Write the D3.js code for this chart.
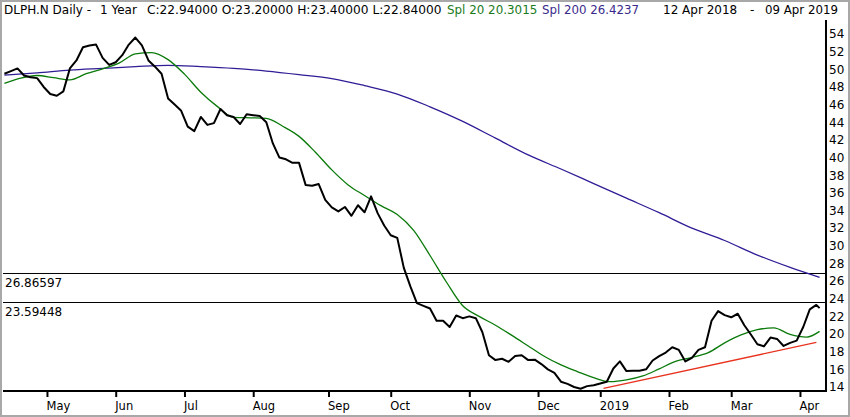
<!DOCTYPE html>
<html>
<head>
<meta charset="utf-8">
<script src="https://cdn.jsdelivr.net/npm/d3@7"></script>
<style>
  body { margin: 0; background: #fff; }
  svg text { font-family: "DejaVu Sans", Verdana, sans-serif; }
</style>
</head>
<body>
<svg id="chart"></svg>
<script>
// closing prices, one reading every 2 trading days from 12 Apr 2018 (index 0)
const closeStep = 2;
const closes = [
  49.5, 49.8, 50.1, 49.3, 49.1, 49.0, 48.0, 47.2, 47.0, 47.5,
  50.1, 51.0, 52.5, 52.7, 52.8, 51.3, 50.5, 50.8, 51.6, 52.8,
  53.6, 52.7, 51.0, 50.3, 49.5, 46.7, 46.0, 45.3, 43.5, 43.0,
  44.6, 43.7, 43.9, 45.5, 44.8, 44.6, 43.8, 44.9, 44.8, 44.7,
  44.0, 41.6, 40.0, 39.8, 39.4, 39.4, 36.9, 36.8, 37.0, 35.2,
  34.35, 33.9, 34.4, 33.4, 34.6, 33.8, 35.6, 33.7, 32.3, 31.2,
  30.9, 27.5, 25.4, 23.5, 23.2, 22.9, 21.5, 21.5, 20.8, 22.1,
  21.8, 22.0, 21.8, 20.2, 17.6, 17.05, 17.2, 16.85, 17.5, 17.6,
  17.05, 17.1, 16.6, 16.0, 15.6, 14.6, 14.35, 14.0, 13.8, 14.1,
  14.2, 14.4, 14.6, 16.1, 16.9, 15.8, 15.85, 15.85, 16.0, 17.0,
  17.5, 17.9, 18.5, 18.2, 16.9, 17.3, 18.2, 18.5, 21.5, 22.6,
  22.15, 21.9, 22.3, 21.0, 19.95, 18.85, 18.6, 19.6, 19.45, 18.65,
  19.0, 19.25, 20.8, 22.8, 23.3
];
const lastDay = 249;
const lastClose = 22.94;

// 20 day average, read every 5 trading days
const sma20Step = 5;
const sma20 = [
  48.4, 49.0, 49.3, 49.05, 48.8, 49.5, 50.05, 50.7, 51.75, 51.9,
  51.1, 49.45, 47.4, 45.8, 44.55, 44.5, 44.45, 43.55, 42.4, 40.6,
  38.6, 36.9, 35.7, 34.55, 33.55, 31.75, 28.9, 25.9, 23.2, 22.0,
  21.0, 19.85, 18.65, 17.45, 16.5, 15.75, 15.05, 14.6, 14.8, 15.25,
  16.05, 16.9, 17.35, 17.9, 19.0, 19.9, 20.5, 20.7, 19.95, 19.65
];
const sma20Last = 20.3015;

// 200 day average, read every 10 trading days
const sma200Step = 10;
const sma200 = [
  49.35, 49.6, 49.9, 50.1, 50.3, 50.45, 50.3, 50.1, 49.8, 49.4,
  48.95, 48.15, 47.2, 45.75, 44.1, 42.2, 40.3, 38.7, 37.05, 35.4,
  33.75, 32.0, 30.6, 28.95, 27.55
];
const sma200Last = 26.4237;

// trend line under the 2019 lows
const trendDays = [183, 248];
const trendValues = [13.85, 19.05];

// horizontal levels
const levels = [26.86597, 23.59448];

// month ticks (trading day index)
const monthDays = [13, 34, 55, 76, 99, 118, 142, 163, 182, 203, 222, 243];
const monthLabels = ["May", "Jun", "Jul", "Aug", "Sep", "Oct", "Nov", "Dec", "2019", "Feb", "Mar", "Apr"];

const priceTicks = d3.range(14, 55, 2);

// header pieces
const headerItems = [
  { text: "DLPH.N Daily -", x: 4, size: 12, color: "#000" },
  { text: "1 Year", x: 100, size: 12, color: "#000" },
  { text: "C:22.94000 O:23.20000 H:23.40000 L:22.84000", x: 147, size: 12.2, color: "#000" },
  { text: "Spl 20 20.3015", x: 447, size: 11.9, color: "#1b7a1b" },
  { text: "Spl 200 26.4237", x: 542, size: 11.8, color: "#3a2a8c" },
  { text: "12 Apr 2018", x: 663, size: 12, color: "#000" },
  { text: "-", x: 750, size: 12, color: "#000" },
  { text: "09 Apr 2019", x: 765, size: 11.8, color: "#000" }
];

const width = 850;
const height = 417;
const plotLeft = 3;
const plotRight = 826;
const plotTop = 20;
const plotBottom = 391;

const svg = d3.select("#chart").attr("width", width).attr("height", height);

svg.append("rect")
  .attr("x", 1).attr("y", 1)
  .attr("width", width - 2).attr("height", height - 2)
  .attr("fill", "#fff")
  .attr("stroke", "#a8a8a8")
  .attr("stroke-width", 2);

const x = d3.scaleLinear().domain([0, lastDay]).range([4.4, 819.6]);
const y = d3.scaleLinear().domain([14, 54]).range([387, 34]);

// build point lists from the arrays
const closePts = closes.map((v, k) => [k * closeStep, v]).concat([[lastDay, lastClose]]);
const sma20Pts = sma20.map((v, k) => [k * sma20Step, v]).concat([[lastDay, sma20Last]]);
const sma200Pts = sma200.map((v, k) => [k * sma200Step, v]).concat([[lastDay, sma200Last]]);
const trendPts = trendDays.map((d, k) => [d, trendValues[k]]);

const plot = svg.append("g");

// horizontal levels and their labels
plot.selectAll(".level")
  .data(levels)
  .enter().append("line")
  .attr("x1", plotLeft).attr("x2", plotRight)
  .attr("y1", d => Math.round(y(d)) + 0.5)
  .attr("y2", d => Math.round(y(d)) + 0.5)
  .attr("stroke", "#000")
  .attr("stroke-width", 1);

plot.selectAll(".levelLabel")
  .data(levels)
  .enter().append("text")
  .attr("x", 5)
  .attr("y", d => Math.round(y(d)) + 14)
  .attr("font-size", 12)
  .attr("fill", "#000")
  .text(d => d.toFixed(5));

const line = d3.line().x(d => x(d[0])).y(d => y(d[1]));
const smooth = d3.line().x(d => x(d[0])).y(d => y(d[1])).curve(d3.curveMonotoneX);

plot.append("path")
  .datum(sma200Pts)
  .attr("d", smooth)
  .attr("fill", "none")
  .attr("stroke", "#2f1d96")
  .attr("stroke-width", 1.3);

plot.append("path")
  .datum(sma20Pts)
  .attr("d", smooth)
  .attr("fill", "none")
  .attr("stroke", "#0a7a0a")
  .attr("stroke-width", 1.3);

plot.append("path")
  .datum(trendPts)
  .attr("d", line)
  .attr("fill", "none")
  .attr("stroke", "#e8321e")
  .attr("stroke-width", 1.4);

plot.append("path")
  .datum(closePts)
  .attr("d", line)
  .attr("fill", "none")
  .attr("stroke", "#000")
  .attr("stroke-width", 2)
  .attr("stroke-linejoin", "round");

// right price axis
svg.append("line")
  .attr("x1", plotRight).attr("x2", plotRight)
  .attr("y1", plotTop).attr("y2", plotBottom + 1)
  .attr("stroke", "#000").attr("stroke-width", 2);

const yAxis = svg.append("g")
  .attr("transform", `translate(${plotRight + 3},0)`)
  .call(d3.axisRight(y).tickValues(priceTicks).tickSize(0).tickPadding(0));
yAxis.select(".domain").remove();
yAxis.selectAll("text")
  .attr("font-size", 12)
  .attr("font-family", "DejaVu Sans, sans-serif")
  .attr("fill", "#000");

// bottom date axis
svg.append("line")
  .attr("x1", plotLeft).attr("x2", plotRight + 1)
  .attr("y1", plotBottom).attr("y2", plotBottom)
  .attr("stroke", "#000").attr("stroke-width", 2);

const xAxis = svg.append("g")
  .attr("transform", `translate(0,${plotBottom})`)
  .call(d3.axisBottom(x)
    .tickValues(monthDays)
    .tickFormat((d, i) => monthLabels[i])
    .tickSizeInner(6)
    .tickSizeOuter(0)
    .tickPadding(5));
xAxis.select(".domain").remove();
xAxis.selectAll(".tick line").attr("stroke", "#000").attr("stroke-width", 2);
xAxis.selectAll("text")
  .attr("text-anchor", "start")
  .attr("x", -1)
  .attr("font-size", 11.5)
  .attr("font-family", "DejaVu Sans, sans-serif")
  .attr("fill", "#000");

// header
svg.selectAll(".header")
  .data(headerItems)
  .enter().append("text")
  .attr("x", d => d.x)
  .attr("y", 14)
  .attr("font-size", d => d.size)
  .attr("fill", d => d.color)
  .text(d => d.text);
</script>
</body>
</html>
